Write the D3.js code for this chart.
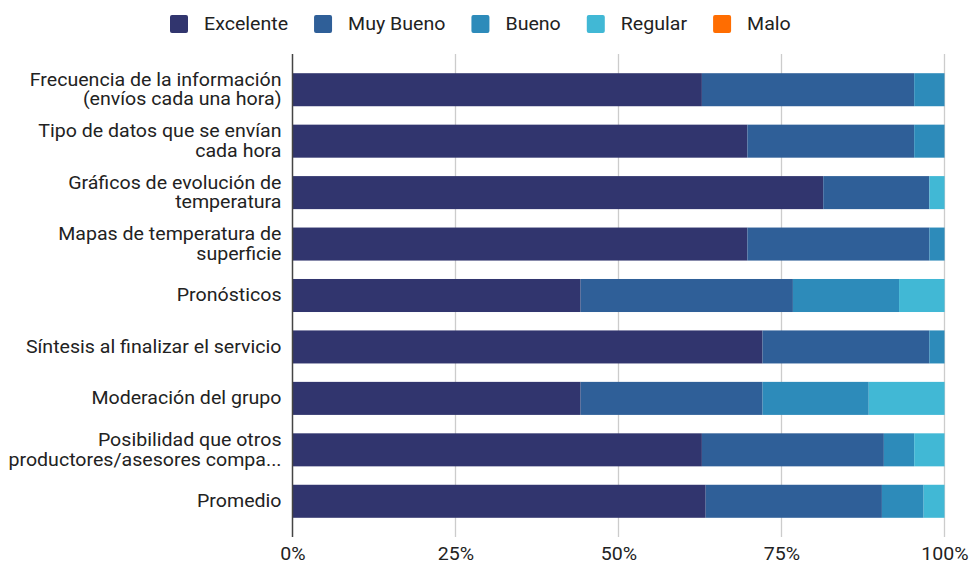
<!DOCTYPE html>
<html>
<head>
<meta charset="utf-8">
<script src="https://cdn.jsdelivr.net/npm/d3@7"></script>
<style>
  html, body { margin: 0; padding: 0; background: #fff; }
  svg { display: block; font-family: Roboto, "Noto Sans", sans-serif; }
</style>
</head>
<body>
<svg id="chart" width="970" height="564"></svg>
<script>
const categories = [
  ["Frecuencia de la información", "(envíos cada una hora)"],
  ["Tipo de datos que se envían", "cada hora"],
  ["Gráficos de evolución de", "temperatura"],
  ["Mapas de temperatura de", "superficie"],
  ["Pronósticos"],
  ["Síntesis al finalizar el servicio"],
  ["Moderación del grupo"],
  ["Posibilidad que otros", "productores/asesores compa..."],
  ["Promedio"]
];
const seriesNames = ["Excelente", "Muy Bueno", "Bueno", "Regular", "Malo"];
const seriesColors = ["#31356e", "#2f5f98", "#2d8bba", "#41b8d5", "#ff6d01"];
const excelente = [62.79, 69.77, 81.40, 69.77, 44.19, 72.09, 44.19, 62.79, 63.37];
const muyBueno  = [32.56, 25.58, 16.28, 27.91, 32.56, 25.58, 27.91, 27.91, 27.03];
const bueno     = [ 4.65,  4.65,  0.00,  2.33, 16.28,  2.33, 16.28,  4.65,  6.40];
const regular   = [ 0.00,  0.00,  2.33,  0.00,  6.98,  0.00, 11.63,  4.65,  3.20];
const malo      = [ 0.00,  0.00,  0.00,  0.00,  0.00,  0.00,  0.00,  0.00,  0.00];
const tickValues = [0, 25, 50, 75, 100];
const tickLabels = ["0%", "25%", "50%", "75%", "100%"];

(function () {
const seriesValues = [excelente, muyBueno, bueno, regular, malo];
const rows = categories.map((c, i) => {
  const r = { idx: i };
  seriesNames.forEach((s, k) => r[s] = seriesValues[k][i]);
  return r;
});

const SX = 1.12;      // horizontal text stretch to match reference glyph widths
const FS = 17.5;
const svg = d3.select("#chart");
const pLeft = 292.5, pRight = 944.5, pTop = 54, pBottom = 537;
const x = d3.scaleLinear().domain([0, 100]).range([pLeft, pRight]);
const y = d3.scaleBand().domain(d3.range(categories.length)).range([64, 527]).paddingInner(0.358).paddingOuter(0.179);

// gridlines
svg.append("g").selectAll("line").data(tickValues.slice(1)).join("line")
  .attr("x1", d => x(d)).attr("x2", d => x(d))
  .attr("y1", pTop).attr("y2", pBottom)
  .attr("stroke", "#cccccc").attr("stroke-width", 1.3);

// stacked bars
const stack = d3.stack().keys(seriesNames)(rows);
svg.append("g").selectAll("g").data(stack).join("g")
  .attr("fill", (d, i) => seriesColors[i])
  .selectAll("rect").data(d => d).join("rect")
  .attr("x", d => x(d[0]))
  .attr("width", d => Math.max(0, x(d[1]) - x(d[0])))
  .attr("y", d => y(d.data.idx))
  .attr("height", y.bandwidth());

// baseline axis
svg.append("line")
  .attr("x1", x(0)).attr("x2", x(0)).attr("y1", pTop).attr("y2", pBottom)
  .attr("stroke", "#444").attr("stroke-width", 1.5);

// x axis tick labels
const xAxis = d3.axisBottom(x).tickValues(tickValues).tickFormat((d, i) => tickLabels[i]).tickSize(0).tickPadding(0);
const gx = svg.append("g").attr("transform", `translate(0, ${pBottom})`).call(xAxis);
gx.select(".domain").remove();
gx.selectAll("text")
  .attr("y", 0).attr("dy", 0)
  .attr("transform", `translate(0,23) scale(${SX},1)`)
  .attr("font-size", FS).attr("font-family", "Roboto").attr("fill", "#222");

// category labels
const labelG = svg.append("g");
const ax = pLeft - 11;
categories.forEach((lines, i) => {
  const cy = y(i) + y.bandwidth() / 2;
  const lh = 19.5;
  const t = labelG.append("text")
    .attr("text-anchor", "end")
    .attr("font-size", FS)
    .attr("fill", "#222")
    .attr("transform", `translate(${ax},0) scale(${SX},1)`);
  lines.forEach((ln, j) => {
    t.append("tspan")
      .attr("x", 0)
      .attr("y", cy + (j - (lines.length - 1) / 2) * lh + 6)
      .text(ln);
  });
});

// legend
const leg = svg.append("g");
let lx = 170;
seriesNames.forEach((s, i) => {
  const g = leg.append("g");
  g.append("rect").attr("x", lx).attr("y", 15).attr("width", 18).attr("height", 18)
    .attr("rx", 2).attr("fill", seriesColors[i]);
  const t = g.append("text").attr("x", 0).attr("y", 0)
    .attr("transform", `translate(${lx + 34},30) scale(${SX},1)`)
    .attr("font-size", FS).attr("fill", "#222").text(s);
  lx += 34 + t.node().getComputedTextLength() * SX + 26;
});
})();
</script>
</body>
</html>
